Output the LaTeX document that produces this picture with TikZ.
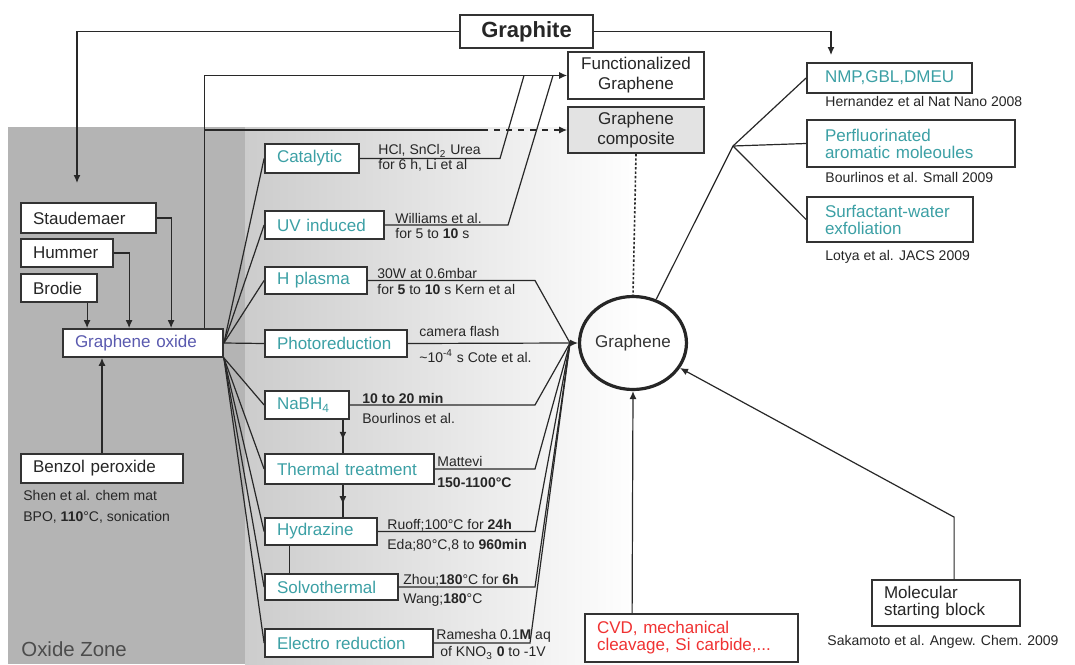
\documentclass[tikz,border=0pt]{standalone}
\usepackage{fontspec}
\setmainfont{Liberation Sans}
\usetikzlibrary{arrows.meta,shapes.geometric,decorations.markings,calc}
\definecolor{tealt}{RGB}{60,160,165}
\definecolor{gopurp}{RGB}{90,90,175}
\definecolor{cvdred}{RGB}{240,50,50}
\definecolor{lnc}{RGB}{40,40,40}
\definecolor{zonegray}{RGB}{180,180,180}
\definecolor{zonelight}{RGB}{204,204,204}
\newcommand{\bxfont}{\fontsize{8.5}{8.5}\selectfont}
\newcommand{\smfont}{\fontsize{7}{8}\selectfont}
\tikzset{
  bx/.style={draw=black!80, line width=0.9pt, fill=white, inner xsep=6pt, inner ysep=0pt, align=left, font=\bxfont, text=black!85},
  cbx/.style={bx, align=center},
  tbx/.style={bx, text=tealt},
  lbl/.style={font=\smfont, inner sep=0pt, anchor=west, text=black!85},
  cn/.style={draw=lnc, line width=0.6pt},
  arr/.style={-{Latex[length=4pt,width=3.5pt]}},
  midarr/.style={cn, postaction={decorate}, decoration={markings, mark=at position 0.6 with {\arrow{Latex[length=4pt,width=3.5pt]}}}}
}
\begin{document}
\begin{tikzpicture}[x=0.5pt,y=-0.5pt]
\useasboundingbox (0,0) rectangle (1075,664);
\fill[white] (0,0) rectangle (1075,664);
\fill[zonegray] (8,127) rectangle (245,664);
\shade[left color=zonelight, right color=white] (245,127) rectangle (640,664);

% top nodes
\node[cbx, font=\fontsize{11}{11}\selectfont\bfseries, text width=54.5pt, minimum height=16.5pt] (graphite) at (526.5,31.5) {Graphite};
\node[cbx, font=\fontsize{8.5}{10}\selectfont, text width=56pt, minimum height=23.5pt] (func) at (636,75.5) {Functionalized\\Graphene};
\node[cbx, fill=gray!22, font=\fontsize{8.5}{10}\selectfont, text width=56pt, minimum height=23pt] (comp) at (636,130) {Graphene\\composite};

% left nodes
\node[bx, text width=55.5pt, minimum height=15pt] (staud) at (88.5,218) {Staudemaer};
\node[bx, text width=34pt, minimum height=14pt] (hummer) at (67,253) {Hummer};
\node[bx, text width=26pt, minimum height=14pt] (brodie) at (59,288) {Brodie};
\node[bx, text=gopurp, text width=68pt, minimum height=14pt] (go) at (143,343) {Graphene oxide};
\node[bx, text width=69pt, minimum height=14.5pt] (benzol) at (102,468.5) {Benzol peroxide};
\node[lbl] (shen) at (23,495) {Shen et al. chem mat};
\node[lbl] (bpo) at (23,517) {BPO, \textbf{110}°C, sonication};
\node[font=\fontsize{10.2}{11}\selectfont, text=black!70, inner sep=0pt, anchor=west] (zone) at (21,649) {Oxide Zone};

% middle nodes
\node[tbx, text width=35pt, minimum height=14.5pt] (cat) at (312,158.5) {Catalytic};
\node[tbx, text width=47.5pt, minimum height=14pt] (uv) at (324.5,225) {UV induced};
\node[tbx, text width=39pt, minimum height=13.5pt] (hpl) at (316,280.5) {H plasma};
\node[tbx, text width=59pt, minimum height=13.5pt] (photo) at (336,343.5) {Photoreduction};
\node[tbx, text width=30pt, minimum height=14pt] (nabh) at (307,405) {NaBH\textsubscript{4}};
\node[tbx, text width=72.5pt, minimum height=15pt] (therm) at (349.5,469) {Thermal treatment};
\node[tbx, text width=44pt, minimum height=13.5pt] (hydr) at (321,531.5) {Hydrazine};
\node[tbx, text width=54.5pt, minimum height=13pt] (solvo) at (331.5,587) {Solvothermal};
\node[tbx, text width=72pt, minimum height=14pt] (electro) at (349,643) {Electro reduction};

% middle labels
\node[lbl] (catA) at (378,151) {HCl, SnCl\textsubscript{2} Urea};
\node[lbl] (catB) at (378,165) {for 6 h, Li et al};
\node[lbl] (uvA) at (395,218) {Williams et al.};
\node[lbl] (uvB) at (395,233) {for 5 to \textbf{10} s};
\node[lbl] (hpA) at (377,273) {30W at 0.6mbar};
\node[lbl] (hpB) at (377,289) {for \textbf{5} to \textbf{10} s Kern et al};
\node[lbl] (phA) at (419,331) {camera flash};
\node[lbl] (phB) at (419,356) {\textasciitilde10\textsuperscript{-4} s Cote et al.};
\node[lbl] (naA) at (362,398) {\textbf{10 to 20 min}};
\node[lbl] (naB) at (362,418) {Bourlinos et al.};
\node[lbl] (thA) at (437,461) {Mattevi};
\node[lbl] (thB) at (437,483) {\textbf{150-1100°C}};
\node[lbl] (hyA) at (387,525) {Ruoff;100°C for \textbf{24h}};
\node[lbl] (hyB) at (387,545) {Eda;80°C,8 to \textbf{960min}};
\node[lbl] (soA) at (403,580) {Zhou;\textbf{180}°C for \textbf{6h}};
\node[lbl] (soB) at (403,600) {Wang;\textbf{180}°C};
\node[lbl] (elA) at (436,636) {Ramesha 0.1\textbf{M} aq};
\node[lbl] (elB) at (440,653) {of KNO\textsubscript{3} \textbf{0} to -1V};

% graphene
\node[draw=black!85, ellipse, line width=1.6pt, minimum width=47.5pt, minimum height=46.5pt, inner sep=0pt, font=\bxfont, text=black!80] (ell) at (633,343) {Graphene};

% right nodes
\node[bx, inner xsep=9pt, text=tealt, text width=64.5pt, minimum height=15pt] (nmp) at (889.5,78) {NMP,GBL,DMEU};
\node[lbl] (hern) at (825,101) {Hernandez et al Nat Nano 2008};
\node[bx, inner xsep=9pt, text=tealt, text width=86pt, minimum height=23.5pt] (perf) at (911,143.5) {Perfluorinated\\aromatic moleoules};
\node[lbl] (bour) at (825,177) {Bourlinos et al. Small 2009};
\node[bx, inner xsep=9pt, text=tealt, text width=65pt, minimum height=22.5pt] (surf) at (890,219.5) {Surfactant-water\\exfoliation};
\node[lbl] (lotya) at (825,257) {Lotya et al. JACS 2009};

% bottom nodes
\node[bx, text=cvdred, text width=94.5pt, minimum height=24pt] (cvd) at (691.5,638) {CVD, mechanical\\cleavage, Si carbide,...};
\node[bx, text width=62pt, minimum height=23pt] (mol) at (946,603) {Molecular\\starting block};
\node[lbl] (saka) at (827,642) {Sakamoto et al. Angew. Chem. 2009};

% coordinates
\coordinate (c1) at (77,183);
\coordinate (c2) at (831,55);
\coordinate (C) at (570,343);
\coordinate (K) at (535,0);
\coordinate (cK1) at (500,0);
\coordinate (cK2) at (524,0);
\coordinate (uK1) at (508,0);
\coordinate (uK2) at (553,0);
\coordinate (eK) at (530,0);
\coordinate (B) at (733,146);
\coordinate (gox) at ([xshift=71pt]go.north west);
\coordinate (dstart) at ($(comp.west)+(-85,0)$);
\coordinate (vx) at ([xshift=-3.5pt]nabh.south east);
\coordinate (hx) at ([xshift=12.5pt]hydr.south west);
\coordinate (mK) at ([xshift=41.5pt,yshift=31pt]mol.north west);

% graphite connectors
\draw[cn,arr] (graphite.west) -| (c1);
\draw[cn,arr] (graphite.east) -| (c2);

% into graphene oxide
\draw[cn,arr] (staud.east) -| ([xshift=54.5pt]go.north west);
\draw[cn,arr] (hummer.east) -| ([xshift=33.5pt]go.north west);
\draw[cn,arr] ([xshift=33.5pt]brodie.south west) -- ([xshift=12.5pt]go.north west);
\draw[cn,arr] (benzol.north) -- (benzol.north |- go.south);

% graphene oxide upward
\draw[cn,arr] (gox) |- (func.west);
\draw[cn] (gox |- comp.west) -- (dstart);
\draw[cn,arr,dashed] (dstart) -- (comp.west);
\draw[cn] (cat.east) -- (cat.east -| cK1) -- (func.west -| cK2);
\draw[cn] (uv.east) -- (uv.east -| uK1) -- (func.west -| uK2);

% fan from graphene oxide
\draw[cn] (go.east) -- (cat.west);
\draw[cn] (go.east) -- (uv.west);
\draw[cn] (go.east) -- (hpl.west);
\draw[cn] (go.east) -- (photo.west);
\draw[cn] (go.south east) -- (nabh.west);
\draw[cn] (go.south east) -- (therm.west);
\draw[cn] (go.south east) -- (hydr.west);
\draw[cn] (go.south east) -- (solvo.west);
\draw[cn] (go.south east) -- (electro.west);

% vertical links
\draw[midarr] (vx) -- (vx |- therm.north);
\draw[midarr] (vx |- therm.south) -- (vx |- hydr.north);
\draw[cn] (hx) -- (hx |- solvo.north);

% into graphene
\draw[cn] (hpl.east) -- (hpl.east -| K) -- (C);
\draw[cn] (photo.east) -- (C);
\draw[cn] (nabh.east) -- (nabh.east -| K) -- (C);
\draw[cn] (therm.east) -- (therm.east -| K) -- (C);
\draw[cn] (hydr.east) -- (hydr.east -| K) -- (C);
\draw[cn] (solvo.east) -- (solvo.east -| K) -- (C);
\draw[cn] (electro.east) -- (electro.east -| eK) -- (C);
\draw[cn,arr] (C) -- (ell.west);
\draw[cn,line width=0.8pt,dash pattern=on 1.2pt off 1pt] (comp.south) -- (ell.north);
\draw[cn,arr] ([xshift=24pt]cvd.north west) -- (ell.south);
\draw[cn,arr] ([xshift=41.5pt]mol.north west) -- (mK) -- (ell.-28);

% graphene to solvents
\draw[cn] (ell.62) -- (B);
\draw[cn] (B) -- (nmp.west);
\draw[cn] (B) -- (perf.west);
\draw[cn] (B) -- (surf.west);
\end{tikzpicture}
\end{document}
